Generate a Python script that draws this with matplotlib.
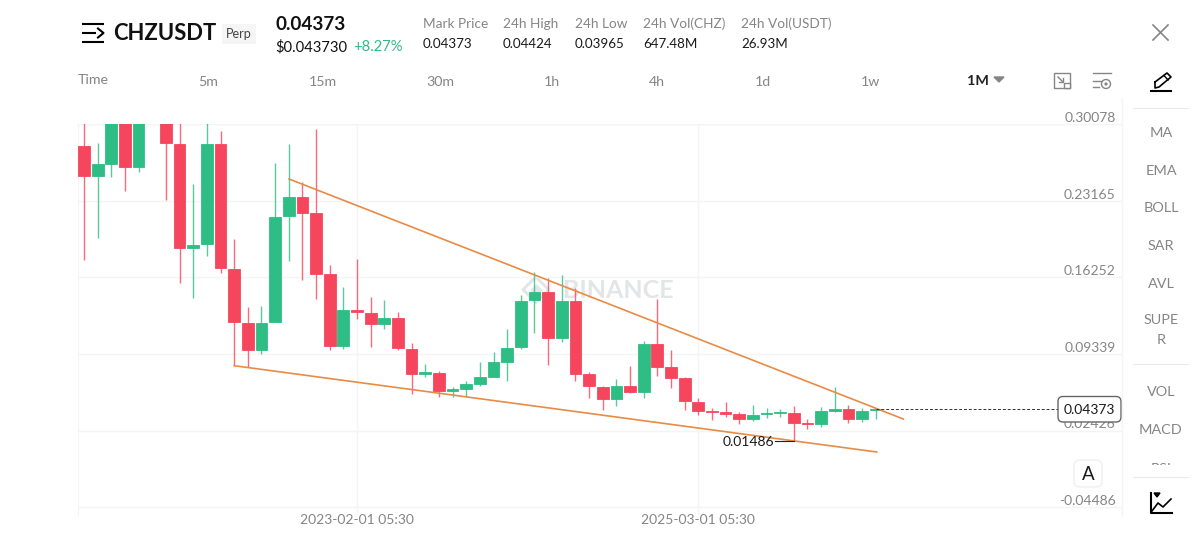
import matplotlib
matplotlib.use("Agg")
import matplotlib.pyplot as plt
from matplotlib.patches import FancyBboxPatch, Rectangle, Circle

plt.rcParams["font.family"] = ["Lato", "DejaVu Sans"]

RED = "#F6465D"
GREEN = "#2EBD85"
ORANGE = "#E98A45"
GRID = "#F3F4F5"
GREY = "#858585"
DARK = "#1A1A1A"

opens = [
    0.28145, 0.25409, 0.2652, 0.33, 0.26195, 0.35, 0.325, 0.28299, 0.18881, 0.19269,
    0.28272, 0.17038, 0.12162, 0.09724, 0.12198, 0.21797, 0.23486, 0.22068, 0.16533, 0.10031,
    0.13282, 0.13038, 0.12018, 0.1256, 0.09814, 0.0753, 0.07647, 0.06022, 0.06202, 0.06654,
    0.07286, 0.0864, 0.09968, 0.14212, 0.14934, 0.10781, 0.14149, 0.07502, 0.06383, 0.05272,
    0.06473, 0.05904, 0.10266, 0.08135, 0.07142, 0.05028, 0.04144, 0.04072, 0.03891, 0.03493,
    0.039, 0.04008, 0.03982, 0.03087, 0.03015, 0.04144, 0.04369, 0.03439, 0.0431,
]
closes = [
    0.25409, 0.26466, 0.325, 0.26195, 0.335, 0.325, 0.28362, 0.18881, 0.19178, 0.28272,
    0.17102, 0.12225, 0.09724, 0.12135, 0.21734, 0.23486, 0.22095, 0.1656, 0.10031, 0.13282,
    0.13101, 0.12018, 0.1256, 0.09851, 0.07557, 0.07683, 0.06022, 0.06175, 0.06627, 0.07232,
    0.08586, 0.09905, 0.14149, 0.14934, 0.10781, 0.14149, 0.07557, 0.06446, 0.05272, 0.06473,
    0.05904, 0.10266, 0.08189, 0.07196, 0.05092, 0.04189, 0.04053, 0.03891, 0.03493, 0.038,
    0.0399, 0.04098, 0.03078, 0.02997, 0.04162, 0.04342, 0.03466, 0.04162, 0.04373,
]
highs = [
    0.31, 0.28416, 0.335, 0.345, 0.35, 0.36, 0.335, 0.31, 0.2466, 0.31,
    0.29446, 0.1972, 0.13607, 0.1367, 0.26556, 0.28272, 0.24894, 0.29653, 0.17372, 0.15413,
    0.17914, 0.14483, 0.14239, 0.13155, 0.10302, 0.0846, 0.07801, 0.06383, 0.06871, 0.08586,
    0.09489, 0.11566, 0.14663, 0.16767, 0.16199, 0.16469, 0.15269, 0.07683, 0.06446, 0.07105,
    0.08279, 0.1051, 0.14275, 0.09697, 0.07286, 0.05363, 0.04433, 0.05028, 0.04072, 0.04703,
    0.04433, 0.04369, 0.0464, 0.03493, 0.04523, 0.06383, 0.04703, 0.04487, 0.04424,
]
lows = [
    0.17824, 0.19838, 0.25319, 0.24082, 0.25743, 0.31, 0.23269, 0.15747, 0.1442, 0.18212,
    0.1665, 0.08342, 0.08135, 0.09336, 0.12198, 0.17734, 0.16018, 0.14329, 0.0967, 0.09814,
    0.12469, 0.09968, 0.11566, 0.09697, 0.05751, 0.07232, 0.0548, 0.05426, 0.05426, 0.06446,
    0.07232, 0.06925, 0.0976, 0.11232, 0.0837, 0.10419, 0.06925, 0.05363, 0.04252, 0.04667,
    0.05814, 0.05336, 0.07349, 0.06266, 0.04306, 0.03855, 0.03376, 0.03674, 0.03015, 0.03313,
    0.03584, 0.03674, 0.01486, 0.0259, 0.02771, 0.04125, 0.03078, 0.03195, 0.03466,
]

y_ticks = [0.30078, 0.23165, 0.16252, 0.09339, 0.02426, -0.04486]
date_ticks = [20, 45]
date_labels = ["2023-02-01 05:30", "2025-03-01 05:30"]

# trend lines as (candle index, price) ends
upper_trend_x = [15.02, 60.02]
upper_trend_y = [0.25138, 0.03466]
lower_trend_x = [11, 58.07]
lower_trend_y = [0.08279, 0.00486]

last_price = 0.04373
low_price = 0.01486
low_index = 52

stat_labels = ["Mark Price", "24h High", "24h Low", "24h Vol(CHZ)", "24h Vol(USDT)"]
stat_values = ["0.04373", "0.04424", "0.03965", "647.48M", "26.93M"]
stat_x = [423, 503, 575, 643, 741]
intervals = ["5m", "15m", "30m", "1h", "4h", "1d", "1w"]
interval_x = [208, 323, 440, 552, 657, 763, 870]
menu_items = ["MA", "EMA", "BOLL", "SAR", "AVL", "SUPE", "R", "VOL", "MACD"]
menu_y = [133, 171, 208, 246, 284, 320, 340, 392, 430]

fig = plt.figure(figsize=(12, 5.53), dpi=100)

# chart area
ax = fig.add_axes([78 / 1200, 1 - 515 / 553, (1122 - 78) / 1200, (515 - 124.3) / 553])
ax.set_xlim(-0.44, 76.04)
ax.set_ylim(-0.05203, 0.30078)
for name in ["top", "bottom", "right"]:
    ax.spines[name].set_visible(False)
ax.spines["left"].set_color(GRID)
ax.set_yticks(y_ticks)
ax.set_xticks(date_ticks, date_labels)
ax.tick_params(length=0, labelleft=False, pad=-1, labelsize=10, labelcolor=GREY)
ax.grid(True, color=GRID, linewidth=1)
ax.set_axisbelow(True)

for v in y_ticks:
    ax.annotate(f"{v:.5f}", xy=(1, v), xycoords=("axes fraction", "data"),
                xytext=(-4.5, 4.5), textcoords="offset points",
                ha="right", va="center", fontsize=10, color=GREY)

# watermark
ax.text(39.16, 0.1511, "BINANCE", fontsize=18, fontweight="bold", color="#E4E5E7",
        ha="center", va="center", zorder=0.5)
ax.scatter([33.1], [0.1515], marker="D", s=170, facecolor="none", edgecolor="#E4E5E7",
           linewidth=2.2, zorder=0.5)
ax.scatter([33.1], [0.1515], marker="D", s=30, color="#E4E5E7", zorder=0.5)

for i in range(len(opens)):
    color = GREEN if closes[i] >= opens[i] else RED
    ax.vlines(i, lows[i], highs[i], color=color, linewidth=1.0, alpha=0.8, zorder=2)
    ax.bar(i, abs(closes[i] - opens[i]), bottom=min(opens[i], closes[i]), width=0.86,
           color=color, edgecolor=color, linewidth=0.6, zorder=3)

ax.plot(upper_trend_x, upper_trend_y, color=ORANGE, linewidth=1.2, zorder=4)
ax.plot(lower_trend_x, lower_trend_y, color=ORANGE, linewidth=1.2, zorder=4)

ax.plot([58, 71.4], [last_price, last_price], color="#333333", linewidth=0.7,
        linestyle=(0, (3, 2)), zorder=4)
ax.plot([low_index - 1.4, low_index], [low_price, low_price], color="#222222", linewidth=0.8, zorder=5)
ax.annotate(f"{low_price:.5f}", xy=(low_index - 1.4, low_price), xytext=(0, -1),
            textcoords="offset points", ha="right", va="center", fontsize=10, color=DARK, zorder=5)

# page furniture, drawn in pixel coordinates
ui = fig.add_axes([0, 0, 1, 1], zorder=3)
ui.set_xlim(0, 1200)
ui.set_ylim(553, 0)
ui.axis("off")
ui.patch.set_alpha(0)

ui.plot([1121.5, 1121.5], [98, 515], color=GRID, linewidth=1)

# last price tag
ui.add_patch(FancyBboxPatch((1058, 396.5), 63, 25.5, boxstyle="round,pad=0,rounding_size=5",
                            facecolor="white", edgecolor="#666666", linewidth=1))
ui.text(1089.8, 410, f"{last_price:.5f}", fontsize=10, color=DARK, ha="center", va="center")

# A button
ui.add_patch(FancyBboxPatch((1074, 460), 28, 27, boxstyle="round,pad=0,rounding_size=6",
                            facecolor="white", edgecolor="#F0F0F0", linewidth=1))
ui.text(1088, 475, "A", fontsize=13.5, color=DARK, ha="center", va="center")

# header
ui.plot([82, 104], [23.5, 23.5], color="black", linewidth=1.5, solid_capstyle="butt")
ui.plot([82, 96], [33, 33], color="black", linewidth=1.5, solid_capstyle="butt")
ui.plot([82, 104], [42, 42], color="black", linewidth=1.5, solid_capstyle="butt")
ui.plot([98, 103.5, 98], [28.5, 33, 37.5], color="black", linewidth=1.5)
ui.text(113, 33.5, "CHZUSDT", fontsize=15.8, fontweight="bold", color="#111111", va="center")
ui.add_patch(Rectangle((222, 23.5), 33.5, 20.5, facecolor="#F5F5F5", edgecolor="none"))
ui.text(238.5, 33.5, "Perp", fontsize=9, color="#444444", ha="center", va="center")
ui.text(275, 24, "0.04373", fontsize=13.6, fontweight="bold", color="#111111", va="center")
ui.text(275, 47, "$0.043730", fontsize=10.6, color="#111111", va="center")
ui.text(353, 47, "+8.27%", fontsize=10.6, color=GREEN, va="center")
for label, value, x in zip(stat_labels, stat_values, stat_x):
    ui.text(x, 24, label, fontsize=9.8, color=GREY, va="center")
    ui.text(x, 44, value, fontsize=9.6, color=DARK, va="center")

# interval row
ui.text(78, 80, "Time", fontsize=10.2, color=GREY, va="center")
for label, x in zip(intervals, interval_x):
    ui.text(x, 82, label, fontsize=10.2, color=GREY, ha="center", va="center")
ui.text(978, 81, "1M", fontsize=10.4, fontweight="bold", color="#222222", ha="center", va="center")
ui.fill([994, 1004, 999], [77, 77, 82], color=GREY)

# toolbar icons
ui.add_patch(Rectangle((1054, 73), 16, 15, facecolor="none", edgecolor=GREY, linewidth=1))
ui.add_patch(Rectangle((1063.5, 83), 6.5, 5, facecolor="white", edgecolor=GREY, linewidth=1))
ui.plot([1058, 1063], [77, 82], color=GREY, linewidth=1)
ui.plot([1059, 1063, 1063], [82, 82, 78], color=GREY, linewidth=1)
ui.plot([1093, 1111], [73, 73], color=GREY, linewidth=1)
ui.plot([1093, 1101], [81, 81], color=GREY, linewidth=1)
ui.plot([1093, 1099], [87, 87], color=GREY, linewidth=1)
ui.add_patch(Circle((1106, 84), 4.5, facecolor="white", edgecolor=GREY, linewidth=1))
ui.add_patch(Circle((1106, 84), 0.9, color=GREY))

# close button
ui.plot([1153, 1168], [25, 40], color=GREY, linewidth=1.2)
ui.plot([1153, 1168], [40, 25], color=GREY, linewidth=1.2)

# pencil
ui.plot([1151, 1171], [90.5, 90.5], color="black", linewidth=1.5)
ui.plot([1155, 1167, 1171, 1159, 1155, 1155], [82, 73, 77, 87, 88, 82], color="black", linewidth=1.2)
ui.plot([1164, 1168], [75.5, 80], color="black", linewidth=1)

# side menu
for label, y in zip(menu_items, menu_y):
    ui.text(1161, y, label, fontsize=10.4, color=GREY, ha="center", va="center")
rsi = ui.text(1161, 469, "RSI", fontsize=10.4, color=GREY, ha="center", va="center", clip_on=True)
rsi.set_clip_path(Rectangle((1130, 450), 60, 15, transform=ui.transData))
for y in [107.5, 364, 476.5]:
    ui.plot([1133, 1188], [y, y], color="#EAEAEA", linewidth=0.8)

# chart type icon
ui.plot([1151, 1151, 1172], [493, 513, 513], color="black", linewidth=1.5)
ui.plot([1152, 1158, 1163, 1171], [511, 503, 507, 499], color="black", linewidth=1.2)
ui.fill([1154, 1160, 1157], [493, 493, 497], color="black")

fig.savefig("out.png", dpi=100)
